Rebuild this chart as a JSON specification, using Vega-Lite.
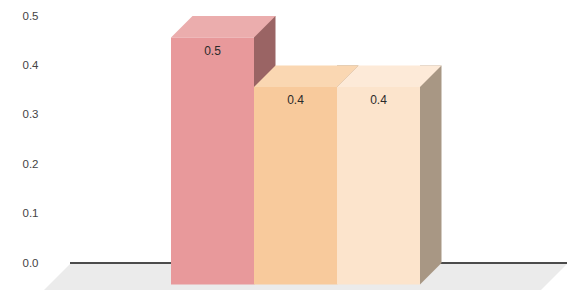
{
  "$schema": "https://vega.github.io/schema/vega-lite/v6.json",
  "width": 497,
  "height": 247,
  "autosize": {"type": "none"},
  "padding": {"left": 70, "top": 16, "right": 18, "bottom": 30},
  "background": "white",
  "config": {
    "view": {"stroke": null},
    "font": "Liberation Sans"
  },
  "data": {
    "values": [
      {"cat": "A", "val": 0.5},
      {"cat": "B", "val": 0.4},
      {"cat": "C", "val": 0.4}
    ]
  },
  "encoding": {
    "x": {"field": "cat", "type": "nominal", "axis": null,
          "scale": {"type": "band", "domain": ["A", "B", "C"], "range": [39.5, 454.5], "paddingInner": 0, "paddingOuter": 1}}
  },
  "layer": [
    {
      "mark": {"type": "rule", "strokeWidth": 0},
      "encoding": {
        "y": {"datum": 0, "type": "quantitative",
              "scale": {"domain": [0, 0.5], "nice": false, "zero": true},
              "axis": {"values": [0, 0.1, 0.2, 0.3, 0.4, 0.5], "format": ".1f", "title": null,
                       "domain": false, "ticks": false, "labelPadding": 32,
                       "labelFontSize": 11.5, "labelColor": "#444444", "labelFont": "Liberation Sans",
                       "gridColor": "#D9D9D9", "gridWidth": 1}}
      }
    },
    {
      "transform": [{"filter": "datum.cat == 'B'"}],
      "mark": {"type": "point", "filled": true, "opacity": 1, "strokeWidth": 0, "size": 4,
               "color": "#EBEBEB",
               "shape": "M-247,1 L250,1 L224,27 L-273,27 Z"},
      "encoding": {"y": {"datum": 0, "type": "quantitative"}}
    },
    {
      "mark": {"type": "rule", "color": "#333333", "strokeWidth": 1},
      "encoding": {"y": {"datum": 0, "type": "quantitative"}, "x": {"value": 0}, "x2": {"value": 497}}
    },
    {
      "mark": {"type": "bar", "width": 21.5, "xOffset": 30.75, "opacity": 1},
      "encoding": {
        "y": {"field": "val", "type": "quantitative"},
        "color": {"field": "cat", "type": "nominal", "legend": null,
                  "scale": {"domain": ["A", "B", "C"], "range": ["#9A6464", "#A88A6C", "#A89784"]}}
      }
    },
    {
      "mark": {"type": "point", "filled": true, "opacity": 1, "strokeWidth": 0, "size": 4,
               "shape": "M41.5,0 L20,21.5 L20,0 Z"},
      "encoding": {
        "y": {"datum": 0, "type": "quantitative"},
        "color": {"field": "cat", "type": "nominal", "legend": null,
                  "scale": {"domain": ["A", "B", "C"], "range": ["#9A6464", "#A88A6C", "#A89784"]}}
      }
    },
    {
      "mark": {"type": "point", "filled": true, "opacity": 1, "strokeWidth": 0, "size": 4,
               "shape": "M-41.5,0 L41.5,0 L20,21.5 L-63,21.5 Z"},
      "encoding": {
        "y": {"field": "val", "type": "quantitative"},
        "color": {"field": "cat", "type": "nominal", "legend": null,
                  "scale": {"domain": ["A", "B", "C"], "range": ["#EBADAD", "#FAD7B2", "#FDEAD8"]}}
      }
    },
    {
      "mark": {"type": "bar", "width": {"band": 1}, "xOffset": -21.5, "yOffset": 21.5, "y2Offset": 21.5, "opacity": 1},
      "encoding": {
        "y": {"field": "val", "type": "quantitative"},
        "color": {"field": "cat", "type": "nominal", "legend": null,
                  "scale": {"domain": ["A", "B", "C"], "range": ["#E8999B", "#F8CA9C", "#FCE4CC"]}}
      }
    },
    {
      "mark": {"type": "text", "xOffset": -21.5, "yOffset": 35, "fontSize": 12, "color": "#2B2B2B",
               "baseline": "middle", "align": "center", "font": "Liberation Sans"},
      "encoding": {
        "y": {"field": "val", "type": "quantitative"},
        "text": {"field": "val", "type": "quantitative", "format": ".1f"}
      }
    }
  ],
  "resolve": {"scale": {"color": "independent"}}
}
